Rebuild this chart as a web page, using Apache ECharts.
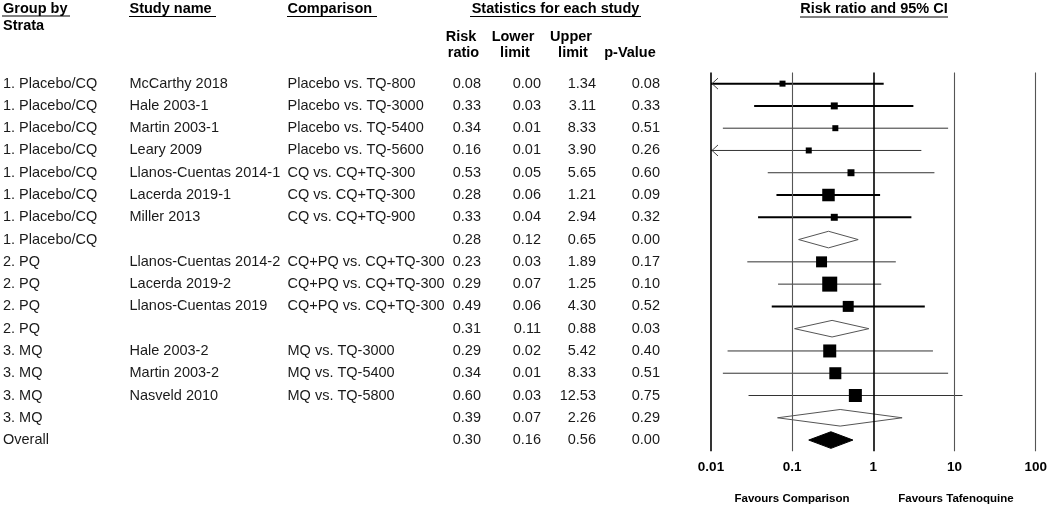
<!DOCTYPE html>
<html>
<head>
<meta charset="utf-8">
<script src="https://cdn.jsdelivr.net/npm/echarts@6/dist/echarts.min.js"></script>
<style>
html,body{margin:0;padding:0;background:#fff;}
#chart{width:1050px;height:507px;}
</style>
</head>
<body>
<div id="chart"></div>
<script>
// ---------- data ----------
const groups = ['1. Placebo/CQ','1. Placebo/CQ','1. Placebo/CQ','1. Placebo/CQ','1. Placebo/CQ','1. Placebo/CQ','1. Placebo/CQ','1. Placebo/CQ',
  '2. PQ','2. PQ','2. PQ','2. PQ','3. MQ','3. MQ','3. MQ','3. MQ','Overall'];
const studies = ['McCarthy 2018','Hale 2003-1','Martin 2003-1','Leary 2009','Llanos-Cuentas 2014-1','Lacerda 2019-1','Miller 2013','',
  'Llanos-Cuentas 2014-2','Lacerda 2019-2','Llanos-Cuentas 2019','','Hale 2003-2','Martin 2003-2','Nasveld 2010','',''];
const comparisons = ['Placebo vs. TQ-800','Placebo vs. TQ-3000','Placebo vs. TQ-5400','Placebo vs. TQ-5600','CQ vs. CQ+TQ-300','CQ vs. CQ+TQ-300','CQ vs. CQ+TQ-900','',
  'CQ+PQ vs. CQ+TQ-300','CQ+PQ vs. CQ+TQ-300','CQ+PQ vs. CQ+TQ-300','','MQ vs. TQ-3000','MQ vs. TQ-5400','MQ vs. TQ-5800','',''];
const riskRatio  = [0.076,0.33,0.34,0.16,0.53,0.28,0.33,0.28,0.23,0.29,0.49,0.31,0.29,0.34,0.60,0.39,0.30];
const lowerLimit = [0.004,0.034,0.014,0.007,0.05,0.064,0.038,0.12,0.028,0.067,0.056,0.107,0.016,0.014,0.029,0.066,0.16];
const upperLimit = [1.34,3.11,8.33,3.90,5.65,1.21,2.94,0.65,1.89,1.25,4.30,0.88,5.42,8.33,12.53,2.26,0.56];
const pValue     = [0.08,0.33,0.51,0.26,0.60,0.09,0.32,0.00,0.17,0.10,0.52,0.03,0.40,0.51,0.75,0.29,0.00];
const weights    = [4,5.4,4,4,5.4,17.4,5.4,null,13.4,25,13.4,null,18.8,16,18.8,null,null];
const xTickLabels = ['0.01','0.1','1','10','100'];
const xTickValues = [0.01,0.1,1,10,100];

// ---------- styles ----------
const FONT = '"Liberation Sans", Arial, Helvetica, sans-serif';
const thickCI = [1,1,0,0,0,1,1,0,0,0,1,0,0,0,0,0,0];
const rowIdx = groups.map((_, i) => i);
const fmt = v => v.toFixed(2);

function colAxis(data, offset, align) {
  return {
    type: 'category', gridIndex: 0, inverse: true, position: 'left', offset: offset,
    data: data,
    axisLine: {show: false}, axisTick: {show: false}, splitLine: {show: false},
    axisLabel: {show: true, margin: 0, align: align, interval: 0, color: '#1a1a1a',
      fontSize: 14.5, fontFamily: FONT}
  };
}

const chart = echarts.init(document.getElementById('chart'), null, {renderer: 'canvas'});

const headerText = (x, y, text, align) => ({
  type: 'text', x: x, y: y,
  style: {text: text, fontSize: 14.5, fontWeight: 'bold', fontFamily: FONT, fill: '#000',
    align: align || 'left', verticalAlign: 'middle'}
});
const uline = (x1, x2, y) => ({
  type: 'line', shape: {x1: x1, y1: y, x2: x2, y2: y}, style: {stroke: '#000', lineWidth: 1}
});

const option = {
  animation: false,
  backgroundColor: '#fff',
  grid: {left: 711, right: 13, top: 72.5, bottom: 55.8, containLabel: false},
  xAxis: {
    type: 'log', logBase: 10, min: 0.01, max: 100,
    axisLine: {show: false}, axisTick: {show: false}, splitLine: {show: false},
    axisLabel: {
      margin: 9, color: '#000', fontSize: 13.5, fontWeight: 'bold', fontFamily: FONT,
      formatter: v => {
        const k = xTickValues.findIndex(t => Math.abs(Math.log10(t) - Math.log10(v)) < 1e-6);
        return k >= 0 ? xTickLabels[k] : '';
      }
    }
  },
  yAxis: [
    Object.assign(colAxis(rowIdx.map(String), 0, 'right'), {axisLabel: {show: false}}),
    colAxis(groups, 708, 'left'),
    colAxis(studies, 581.5, 'left'),
    colAxis(comparisons, 423.5, 'left'),
    colAxis(riskRatio.map(fmt), 230, 'right'),
    colAxis(lowerLimit.map(fmt), 170, 'right'),
    colAxis(upperLimit.map(fmt), 115, 'right'),
    colAxis(pValue.map(fmt), 51, 'right')
  ],
  series: [
    {
      type: 'line', data: [], z: 1, silent: true,
      markLine: {
        silent: true, symbol: 'none', label: {show: false}, animation: false,
        data: xTickValues.map(v => ({
          xAxis: v,
          lineStyle: {type: 'solid', color: (v === 0.01 || v === 1) ? '#000' : '#555',
            width: (v === 0.01 || v === 1) ? 1.6 : 1.1}
        }))
      }
    },
    {
      type: 'custom', z: 3, clip: false,
      encode: {x: [1, 2, 3], y: 0},
      data: rowIdx.map(i => [i, riskRatio[i], lowerLimit[i], upperLimit[i]]),
      renderItem: function (params, api) {
        const i = api.value(0);
        const est = api.value(1), lo = api.value(2), hi = api.value(3);
        const clamped = lo < 0.01;
        const y = api.coord([1, i])[1];
        const xl = api.coord([Math.max(lo, 0.01), i])[0];
        const xh = api.coord([Math.min(hi, 100), i])[0];
        const xe = api.coord([est, i])[0];
        const children = [];
        if (studies[i] !== '') {
          const thick = thickCI[i] === 1;
          children.push({type: 'line', shape: {x1: xl, y1: y, x2: xh, y2: y},
            style: {stroke: thick ? '#000' : '#333', lineWidth: thick ? 2 : 1}});
          if (clamped) {
            children.push({type: 'polyline', shape: {points: [[xl + 7, y - 5.5], [xl + 1, y], [xl + 7, y + 5.5]]},
              style: {stroke: '#444', lineWidth: 1, fill: null}});
          }
          const s = 3 * Math.sqrt(weights[i]);
          children.push({type: 'rect', shape: {x: xe - s / 2, y: y - s / 2, width: s, height: s},
            style: {fill: '#000'}});
        } else {
          const overall = groups[i] === 'Overall';
          const h = 8.3;
          children.push({type: 'polygon',
            shape: {points: [[xl, y], [xe, y - h], [xh, y], [xe, y + h]]},
            style: overall ? {fill: '#000', stroke: '#000', lineWidth: 1}
                           : {fill: null, stroke: '#555', lineWidth: 1}});
        }
        return {type: 'group', children: children};
      }
    }
  ],
  graphic: {
    elements: [
      headerText(3, 8.5, 'Group by'), uline(2, 70, 16),
      headerText(3, 26, 'Strata'),
      headerText(129.5, 8.5, 'Study name'), uline(129, 216, 16.5),
      headerText(287.5, 8.5, 'Comparison'), uline(287, 377, 16.5),
      headerText(555.5, 8.5, 'Statistics for each study', 'center'), uline(470, 641, 16.5),
      headerText(461, 36.5, 'Risk', 'center'), headerText(463.5, 53, 'ratio', 'center'),
      headerText(513, 36.5, 'Lower', 'center'), headerText(515, 53, 'limit', 'center'),
      headerText(571, 36.5, 'Upper', 'center'), headerText(573, 53, 'limit', 'center'),
      headerText(630, 53, 'p-Value', 'center'),
      headerText(874, 8.5, 'Risk ratio and 95% CI', 'center'), uline(800, 948, 17),
      {type: 'text', x: 792, y: 499, style: {text: 'Favours Comparison', fontSize: 11.5, fontWeight: 'bold',
        fontFamily: FONT, fill: '#000', align: 'center', verticalAlign: 'middle'}},
      {type: 'text', x: 956, y: 499, style: {text: 'Favours Tafenoquine', fontSize: 11.5, fontWeight: 'bold',
        fontFamily: FONT, fill: '#000', align: 'center', verticalAlign: 'middle'}}
    ]
  }
};
chart.setOption(option);
</script>
</body>
</html>
